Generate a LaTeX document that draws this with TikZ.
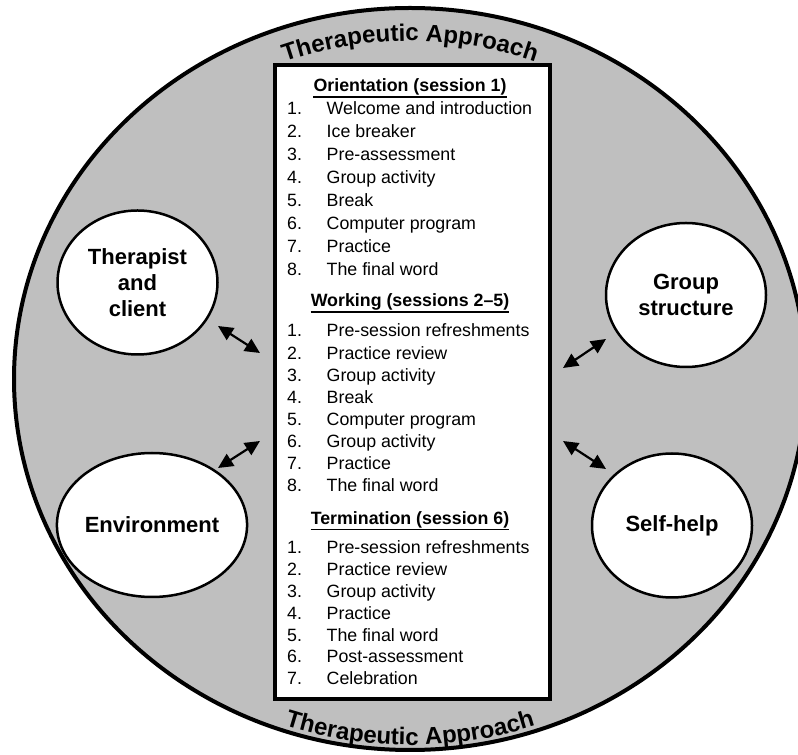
\documentclass[tikz,border=0pt]{standalone}
\usepackage{fontspec}
\setmainfont{Liberation Sans}
\usepackage{tikz}
\usetikzlibrary{shapes.geometric,arrows.meta,decorations.text,positioning}
\definecolor{ringgray}{gray}{0.75}
\tikzset{
  approachring/.style={draw=black, fill=ringgray, line width=4pt},
  listframe/.style={draw=black, fill=white, line width=4pt},
  topicbubble/.style={ellipse, draw=black, fill=white, line width=2.5pt,
    minimum width=160pt, minimum height=144pt, inner sep=0pt, align=center,
    font=\bfseries\fontsize{22}{26}\selectfont},
  sessionhead/.style={anchor=base, inner sep=0pt, font=\bfseries\fontsize{17.8}{21}\selectfont},
  sessionitem/.style={anchor=base west, inner sep=0pt, font=\fontsize{17.8}{21}\selectfont},
  headrule/.style={line width=1.4pt},
  linkarrow/.style={{Triangle[length=15pt,width=14pt]}-{Triangle[length=15pt,width=14pt]}, line width=2.2pt},
}

\begin{document}
\begin{tikzpicture}[x=1pt, y=1pt]
  \useasboundingbox (0,0) rectangle (798,755);

  % Outer ring and its titles
  \path[approachring] (410,376) ellipse[x radius=396, y radius=371];
  \path[decorate, decoration={text along path, text align=center,
      text={|\bfseries\fontsize{24}{28}\selectfont|Therapeutic Approach}}]
    (410,376) ++(150:362 and 338) arc[start angle=150, end angle=30, x radius=362, y radius=338];
  \path[decorate, decoration={text along path, text align=center,
      text={|\bfseries\fontsize{24}{28}\selectfont|Therapeutic Approach}}]
    (410,376) ++(208:390 and 366) arc[start angle=208, end angle=332, x radius=390, y radius=366];

  % Session list
  \draw[listframe] (275,55.5) rectangle (549.5,689.5);

  \node[sessionhead] (orihead) at (410,663) {Orientation (session 1)};
  \draw[headrule] ([yshift=-5pt]orihead.base west) -- ([yshift=-5pt]orihead.base east);
  \foreach \t [count=\i] in {Welcome and introduction, Ice breaker, Pre-assessment,
      Group activity, Break, Computer program, Practice, The final word}
    \node[sessionitem] (ori\i) at (287,{640-22.86*(\i-1)}) {\makebox[39.5pt][l]{\i.}\t};

  \node[sessionhead] (workhead) at (410,448) {Working (sessions 2–5)};
  \draw[headrule] ([yshift=-5pt]workhead.base west) -- ([yshift=-5pt]workhead.base east);
  \foreach \t [count=\i] in {Pre-session refreshments, Practice review, Group activity,
      Break, Computer program, Group activity, Practice, The final word}
    \node[sessionitem] (work\i) at (287,{418-22.1*(\i-1)}) {\makebox[39.5pt][l]{\i.}\t};

  \node[sessionhead] (termhead) at (410,230) {Termination (session 6)};
  \draw[headrule] ([yshift=-4.5pt]termhead.base west) -- ([yshift=-4.5pt]termhead.base east);
  \foreach \t [count=\i] in {Pre-session refreshments, Practice review, Group activity,
      Practice, The final word, Post-assessment, Celebration}
    \node[sessionitem] (term\i) at (287,{201-21.8*(\i-1)}) {\makebox[39.5pt][l]{\i.}\t};

  % Bubbles round the list
  \node[topicbubble] (therapist) at (137.5,472.5) {Therapist\\and\\client};
  \node[topicbubble] (group) at (686,460) {Group\\structure};
  \node[topicbubble] (environment) at (152,230) {Environment};
  \node[topicbubble] (selfhelp) at (672,229.5) {Self-help};

  % Arrow ends
  \coordinate (therapistend) at (218,429);
  \coordinate (listtl) at (260,402);
  \coordinate (environmentend) at (218,287);
  \coordinate (listbl) at (260,314);
  \coordinate (groupend) at (606,416);
  \coordinate (listtr) at (563,387);
  \coordinate (selfhelpend) at (606,286);
  \coordinate (listbr) at (563,314);

  \draw[linkarrow] (therapistend) -- (listtl);
  \draw[linkarrow] (environmentend) -- (listbl);
  \draw[linkarrow] (listtr) -- (groupend);
  \draw[linkarrow] (listbr) -- (selfhelpend);

\end{tikzpicture}
\end{document}
